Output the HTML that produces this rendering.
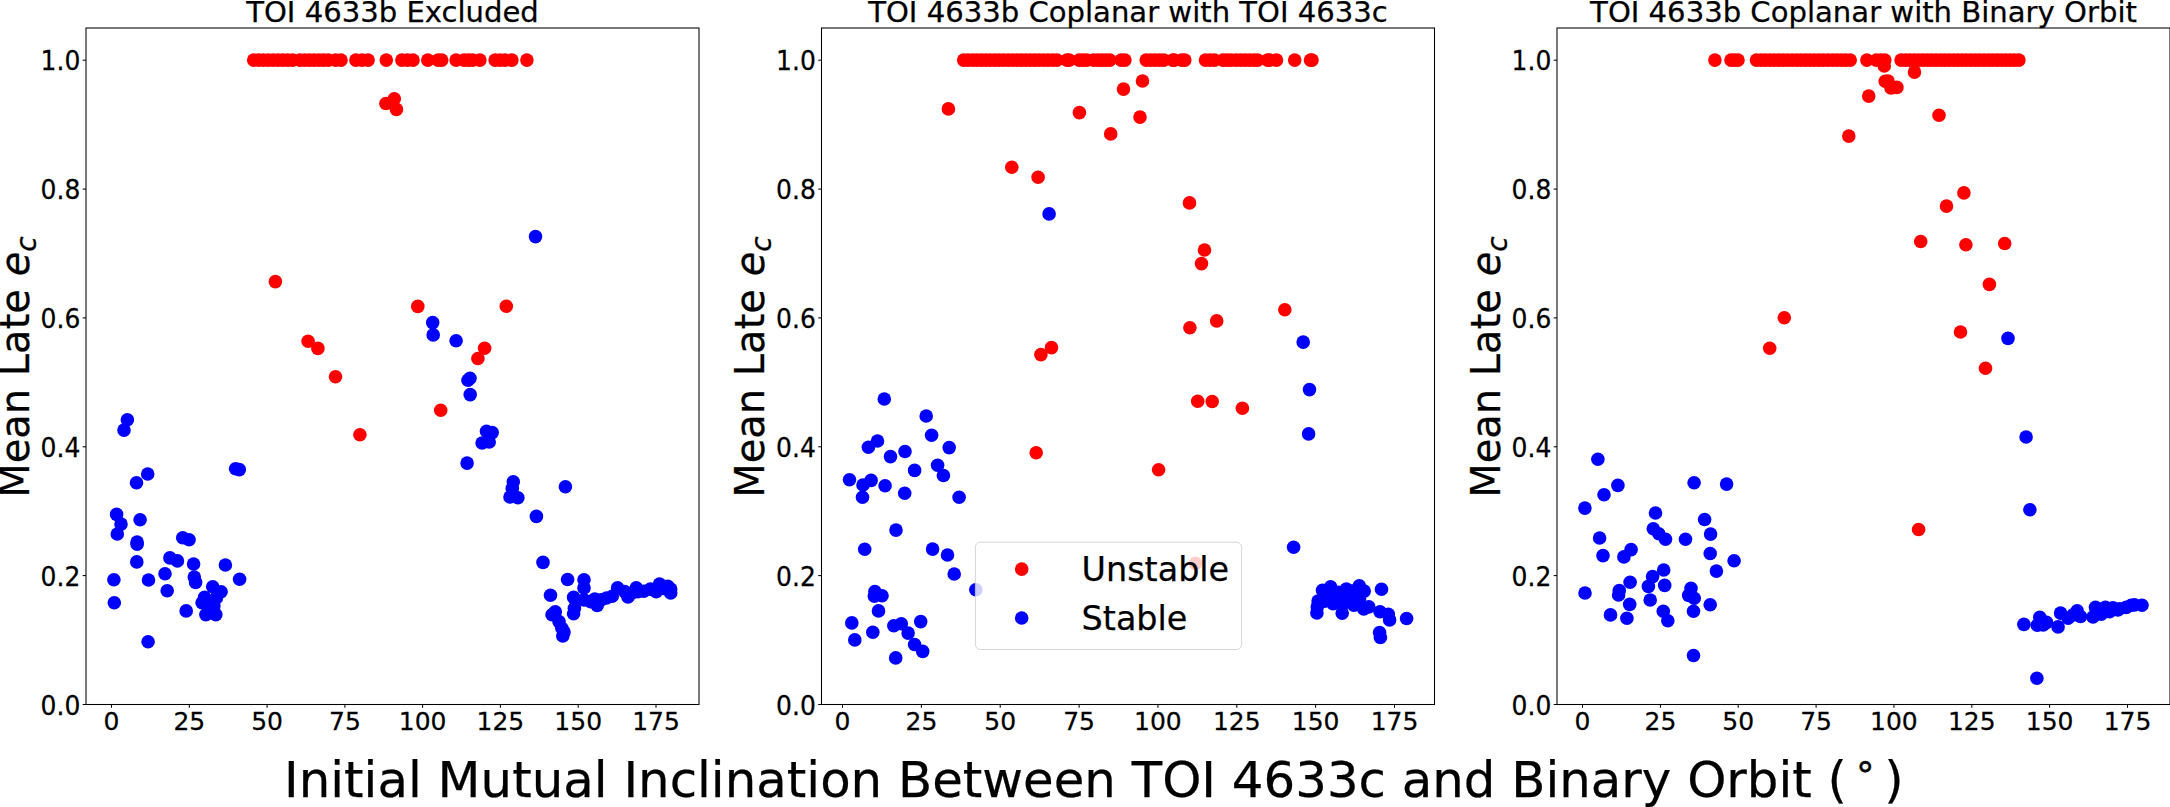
<!DOCTYPE html><html><head><meta charset="utf-8"><title>fig</title><style>html,body{margin:0;padding:0;background:#fff;overflow:hidden}svg{display:block}text{font-family:"DejaVu Sans", "Liberation Sans", sans-serif;fill:#000;stroke:#000;stroke-width:0.25px}</style></head><body>
<svg width="2170" height="807" viewBox="0 0 2170 807">
<rect width="2170" height="807" fill="#fff"/>
<g>
<circle cx="253.7" cy="60.1" r="6.8" fill="#ff0000"/>
<circle cx="258.6" cy="60.1" r="6.8" fill="#ff0000"/>
<circle cx="263.4" cy="60.1" r="6.8" fill="#ff0000"/>
<circle cx="268.2" cy="60.1" r="6.8" fill="#ff0000"/>
<circle cx="273.1" cy="60.1" r="6.8" fill="#ff0000"/>
<circle cx="278.0" cy="60.1" r="6.8" fill="#ff0000"/>
<circle cx="282.8" cy="60.1" r="6.8" fill="#ff0000"/>
<circle cx="287.6" cy="60.1" r="6.8" fill="#ff0000"/>
<circle cx="292.5" cy="60.1" r="6.8" fill="#ff0000"/>
<circle cx="299.9" cy="60.1" r="6.8" fill="#ff0000"/>
<circle cx="304.6" cy="60.1" r="6.8" fill="#ff0000"/>
<circle cx="309.3" cy="60.1" r="6.8" fill="#ff0000"/>
<circle cx="314.0" cy="60.1" r="6.8" fill="#ff0000"/>
<circle cx="318.8" cy="60.1" r="6.8" fill="#ff0000"/>
<circle cx="323.5" cy="60.1" r="6.8" fill="#ff0000"/>
<circle cx="328.2" cy="60.1" r="6.8" fill="#ff0000"/>
<circle cx="335.6" cy="60.1" r="6.8" fill="#ff0000"/>
<circle cx="341.0" cy="60.1" r="6.8" fill="#ff0000"/>
<circle cx="355.9" cy="60.1" r="6.8" fill="#ff0000"/>
<circle cx="362.0" cy="60.1" r="6.8" fill="#ff0000"/>
<circle cx="368.1" cy="60.1" r="6.8" fill="#ff0000"/>
<circle cx="386.3" cy="60.1" r="6.8" fill="#ff0000"/>
<circle cx="401.9" cy="60.1" r="6.8" fill="#ff0000"/>
<circle cx="407.4" cy="60.1" r="6.8" fill="#ff0000"/>
<circle cx="413.0" cy="60.1" r="6.8" fill="#ff0000"/>
<circle cx="427.8" cy="60.1" r="6.8" fill="#ff0000"/>
<circle cx="438.1" cy="60.1" r="6.8" fill="#ff0000"/>
<circle cx="441.7" cy="60.1" r="6.8" fill="#ff0000"/>
<circle cx="456.1" cy="60.1" r="6.8" fill="#ff0000"/>
<circle cx="464.1" cy="60.1" r="6.8" fill="#ff0000"/>
<circle cx="468.5" cy="60.1" r="6.8" fill="#ff0000"/>
<circle cx="472.5" cy="60.1" r="6.8" fill="#ff0000"/>
<circle cx="479.9" cy="60.1" r="6.8" fill="#ff0000"/>
<circle cx="495.1" cy="60.1" r="6.8" fill="#ff0000"/>
<circle cx="500" cy="60.1" r="6.8" fill="#ff0000"/>
<circle cx="505" cy="60.1" r="6.8" fill="#ff0000"/>
<circle cx="511.9" cy="60.1" r="6.8" fill="#ff0000"/>
<circle cx="526.9" cy="60.1" r="6.8" fill="#ff0000"/>
<circle cx="385.9" cy="103.5" r="6.8" fill="#ff0000"/>
<circle cx="394.3" cy="98.8" r="6.8" fill="#ff0000"/>
<circle cx="396.4" cy="109.4" r="6.8" fill="#ff0000"/>
<circle cx="275.4" cy="281.6" r="6.8" fill="#ff0000"/>
<circle cx="417.8" cy="306.4" r="6.8" fill="#ff0000"/>
<circle cx="506.3" cy="306.2" r="6.8" fill="#ff0000"/>
<circle cx="308.1" cy="341.3" r="6.8" fill="#ff0000"/>
<circle cx="317.9" cy="348.4" r="6.8" fill="#ff0000"/>
<circle cx="335.5" cy="376.7" r="6.8" fill="#ff0000"/>
<circle cx="359.9" cy="434.8" r="6.8" fill="#ff0000"/>
<circle cx="484.6" cy="348.3" r="6.8" fill="#ff0000"/>
<circle cx="477.9" cy="358.5" r="6.8" fill="#ff0000"/>
<circle cx="440.7" cy="410.3" r="6.8" fill="#ff0000"/>
<circle cx="535.5" cy="236.6" r="6.8" fill="#0000ff"/>
<circle cx="432.7" cy="322.6" r="6.8" fill="#0000ff"/>
<circle cx="433.2" cy="334.9" r="6.8" fill="#0000ff"/>
<circle cx="456.1" cy="340.7" r="6.8" fill="#0000ff"/>
<circle cx="470.0" cy="378.3" r="6.8" fill="#0000ff"/>
<circle cx="468.0" cy="380.2" r="6.8" fill="#0000ff"/>
<circle cx="470.2" cy="394.6" r="6.8" fill="#0000ff"/>
<circle cx="486.5" cy="431.2" r="6.8" fill="#0000ff"/>
<circle cx="492.2" cy="432.6" r="6.8" fill="#0000ff"/>
<circle cx="489.2" cy="442.0" r="6.8" fill="#0000ff"/>
<circle cx="482.1" cy="443.0" r="6.8" fill="#0000ff"/>
<circle cx="467.1" cy="463.1" r="6.8" fill="#0000ff"/>
<circle cx="513.3" cy="481.7" r="6.8" fill="#0000ff"/>
<circle cx="512.3" cy="488.4" r="6.8" fill="#0000ff"/>
<circle cx="510.0" cy="497.0" r="6.8" fill="#0000ff"/>
<circle cx="517.9" cy="497.8" r="6.8" fill="#0000ff"/>
<circle cx="565.4" cy="486.8" r="6.8" fill="#0000ff"/>
<circle cx="536.4" cy="516.4" r="6.8" fill="#0000ff"/>
<circle cx="543.0" cy="562.4" r="6.8" fill="#0000ff"/>
<circle cx="567.6" cy="579.5" r="6.8" fill="#0000ff"/>
<circle cx="584.0" cy="579.7" r="6.8" fill="#0000ff"/>
<circle cx="584.0" cy="587.9" r="6.8" fill="#0000ff"/>
<circle cx="550.5" cy="595.3" r="6.8" fill="#0000ff"/>
<circle cx="573.6" cy="597.4" r="6.8" fill="#0000ff"/>
<circle cx="555.3" cy="611.8" r="6.8" fill="#0000ff"/>
<circle cx="552.0" cy="614.8" r="6.8" fill="#0000ff"/>
<circle cx="559.0" cy="621.6" r="6.8" fill="#0000ff"/>
<circle cx="561.9" cy="628.2" r="6.8" fill="#0000ff"/>
<circle cx="564.0" cy="632.0" r="6.8" fill="#0000ff"/>
<circle cx="562.8" cy="635.9" r="6.8" fill="#0000ff"/>
<circle cx="573.6" cy="613.8" r="6.8" fill="#0000ff"/>
<circle cx="574.4" cy="608.3" r="6.8" fill="#0000ff"/>
<circle cx="584.0" cy="599.9" r="6.8" fill="#0000ff"/>
<circle cx="590.6" cy="601.6" r="6.8" fill="#0000ff"/>
<circle cx="597.2" cy="605.5" r="6.8" fill="#0000ff"/>
<circle cx="601.0" cy="599.9" r="6.8" fill="#0000ff"/>
<circle cx="594.8" cy="599.1" r="6.8" fill="#0000ff"/>
<circle cx="612.2" cy="596.2" r="6.8" fill="#0000ff"/>
<circle cx="617.6" cy="587.9" r="6.8" fill="#0000ff"/>
<circle cx="624.7" cy="591.6" r="6.8" fill="#0000ff"/>
<circle cx="628.0" cy="597.0" r="6.8" fill="#0000ff"/>
<circle cx="636.3" cy="587.9" r="6.8" fill="#0000ff"/>
<circle cx="637.9" cy="591.6" r="6.8" fill="#0000ff"/>
<circle cx="643.8" cy="591.2" r="6.8" fill="#0000ff"/>
<circle cx="650.4" cy="589.1" r="6.8" fill="#0000ff"/>
<circle cx="656.2" cy="591.6" r="6.8" fill="#0000ff"/>
<circle cx="659.5" cy="584.1" r="6.8" fill="#0000ff"/>
<circle cx="667.8" cy="586.2" r="6.8" fill="#0000ff"/>
<circle cx="670.7" cy="592.9" r="6.8" fill="#0000ff"/>
<circle cx="670.7" cy="589.1" r="6.8" fill="#0000ff"/>
<circle cx="606.5" cy="598.0" r="6.8" fill="#0000ff"/>
<circle cx="632" cy="593" r="6.8" fill="#0000ff"/>
<circle cx="663.5" cy="588.5" r="6.8" fill="#0000ff"/>
<circle cx="127.4" cy="419.8" r="6.8" fill="#0000ff"/>
<circle cx="124.0" cy="430.1" r="6.8" fill="#0000ff"/>
<circle cx="147.7" cy="474.0" r="6.8" fill="#0000ff"/>
<circle cx="136.5" cy="482.8" r="6.8" fill="#0000ff"/>
<circle cx="235.6" cy="468.8" r="6.8" fill="#0000ff"/>
<circle cx="239.3" cy="469.6" r="6.8" fill="#0000ff"/>
<circle cx="116.6" cy="514.4" r="6.8" fill="#0000ff"/>
<circle cx="121.0" cy="524.1" r="6.8" fill="#0000ff"/>
<circle cx="117.3" cy="534.0" r="6.8" fill="#0000ff"/>
<circle cx="140.1" cy="519.7" r="6.8" fill="#0000ff"/>
<circle cx="137.1" cy="542.0" r="6.8" fill="#0000ff"/>
<circle cx="137.1" cy="544.2" r="6.8" fill="#0000ff"/>
<circle cx="136.8" cy="561.9" r="6.8" fill="#0000ff"/>
<circle cx="113.9" cy="579.8" r="6.8" fill="#0000ff"/>
<circle cx="148.5" cy="580.0" r="6.8" fill="#0000ff"/>
<circle cx="165.0" cy="573.8" r="6.8" fill="#0000ff"/>
<circle cx="167.2" cy="590.8" r="6.8" fill="#0000ff"/>
<circle cx="182.7" cy="537.7" r="6.8" fill="#0000ff"/>
<circle cx="189.1" cy="539.8" r="6.8" fill="#0000ff"/>
<circle cx="169.9" cy="557.9" r="6.8" fill="#0000ff"/>
<circle cx="177.4" cy="560.9" r="6.8" fill="#0000ff"/>
<circle cx="193.6" cy="564.0" r="6.8" fill="#0000ff"/>
<circle cx="194.3" cy="577.0" r="6.8" fill="#0000ff"/>
<circle cx="195.6" cy="582.4" r="6.8" fill="#0000ff"/>
<circle cx="225.4" cy="565.0" r="6.8" fill="#0000ff"/>
<circle cx="239.6" cy="579.2" r="6.8" fill="#0000ff"/>
<circle cx="212.7" cy="586.7" r="6.8" fill="#0000ff"/>
<circle cx="221.1" cy="591.7" r="6.8" fill="#0000ff"/>
<circle cx="114.3" cy="602.8" r="6.8" fill="#0000ff"/>
<circle cx="204.6" cy="597.3" r="6.8" fill="#0000ff"/>
<circle cx="202.1" cy="602.8" r="6.8" fill="#0000ff"/>
<circle cx="216.4" cy="597.9" r="6.8" fill="#0000ff"/>
<circle cx="213.9" cy="605.9" r="6.8" fill="#0000ff"/>
<circle cx="205.9" cy="614.6" r="6.8" fill="#0000ff"/>
<circle cx="215.8" cy="614.6" r="6.8" fill="#0000ff"/>
<circle cx="209" cy="607.2" r="6.8" fill="#0000ff"/>
<circle cx="186.2" cy="610.9" r="6.8" fill="#0000ff"/>
<circle cx="148.1" cy="641.7" r="6.8" fill="#0000ff"/>
</g>
<rect x="86.0" y="28.0" width="613.0" height="676.5" fill="none" stroke="#000" stroke-width="1.05"/>
<line x1="111.5" y1="704.5" x2="111.5" y2="707.8" stroke="#000" stroke-width="1.05"/>
<text transform="translate(111.5,729.8) scale(1,1.025)" font-size="25" text-anchor="middle">0</text>
<line x1="189.3" y1="704.5" x2="189.3" y2="707.8" stroke="#000" stroke-width="1.05"/>
<text transform="translate(189.3,729.8) scale(1,1.025)" font-size="25" text-anchor="middle">25</text>
<line x1="267.1" y1="704.5" x2="267.1" y2="707.8" stroke="#000" stroke-width="1.05"/>
<text transform="translate(267.1,729.8) scale(1,1.025)" font-size="25" text-anchor="middle">50</text>
<line x1="344.9" y1="704.5" x2="344.9" y2="707.8" stroke="#000" stroke-width="1.05"/>
<text transform="translate(344.9,729.8) scale(1,1.025)" font-size="25" text-anchor="middle">75</text>
<line x1="422.6" y1="704.5" x2="422.6" y2="707.8" stroke="#000" stroke-width="1.05"/>
<text transform="translate(422.6,729.8) scale(1,1.025)" font-size="25" text-anchor="middle">100</text>
<line x1="500.4" y1="704.5" x2="500.4" y2="707.8" stroke="#000" stroke-width="1.05"/>
<text transform="translate(500.4,729.8) scale(1,1.025)" font-size="25" text-anchor="middle">125</text>
<line x1="578.2" y1="704.5" x2="578.2" y2="707.8" stroke="#000" stroke-width="1.05"/>
<text transform="translate(578.2,729.8) scale(1,1.025)" font-size="25" text-anchor="middle">150</text>
<line x1="656.0" y1="704.5" x2="656.0" y2="707.8" stroke="#000" stroke-width="1.05"/>
<text transform="translate(656.0,729.8) scale(1,1.025)" font-size="25" text-anchor="middle">175</text>
<line x1="86.0" y1="704.5" x2="82.7" y2="704.5" stroke="#000" stroke-width="1.05"/>
<text transform="translate(80.3,714.5) scale(1,1.03)" font-size="25" text-anchor="end">0.0</text>
<line x1="86.0" y1="575.6" x2="82.7" y2="575.6" stroke="#000" stroke-width="1.05"/>
<text transform="translate(80.3,585.6) scale(1,1.03)" font-size="25" text-anchor="end">0.2</text>
<line x1="86.0" y1="446.8" x2="82.7" y2="446.8" stroke="#000" stroke-width="1.05"/>
<text transform="translate(80.3,456.8) scale(1,1.03)" font-size="25" text-anchor="end">0.4</text>
<line x1="86.0" y1="317.9" x2="82.7" y2="317.9" stroke="#000" stroke-width="1.05"/>
<text transform="translate(80.3,327.9) scale(1,1.03)" font-size="25" text-anchor="end">0.6</text>
<line x1="86.0" y1="189.1" x2="82.7" y2="189.1" stroke="#000" stroke-width="1.05"/>
<text transform="translate(80.3,199.1) scale(1,1.03)" font-size="25" text-anchor="end">0.8</text>
<line x1="86.0" y1="60.2" x2="82.7" y2="60.2" stroke="#000" stroke-width="1.05"/>
<text transform="translate(80.3,70.2) scale(1,1.03)" font-size="25" text-anchor="end">1.0</text>
<text x="392.5" y="22.4" font-size="29.1" text-anchor="middle">TOI 4633b Excluded</text>
<text transform="translate(28.7,367.1) rotate(-90)" font-size="40" text-anchor="middle">Mean Late <tspan font-style="italic">e</tspan><tspan font-style="italic" font-size="28.0" dy="6.8">c</tspan></text>
<g>
<circle cx="963.7" cy="60.1" r="6.8" fill="#ff0000"/>
<circle cx="968.1" cy="60.1" r="6.8" fill="#ff0000"/>
<circle cx="972.6" cy="60.1" r="6.8" fill="#ff0000"/>
<circle cx="977.0" cy="60.1" r="6.8" fill="#ff0000"/>
<circle cx="981.5" cy="60.1" r="6.8" fill="#ff0000"/>
<circle cx="985.9" cy="60.1" r="6.8" fill="#ff0000"/>
<circle cx="990.3" cy="60.1" r="6.8" fill="#ff0000"/>
<circle cx="994.8" cy="60.1" r="6.8" fill="#ff0000"/>
<circle cx="999.2" cy="60.1" r="6.8" fill="#ff0000"/>
<circle cx="1003.6" cy="60.1" r="6.8" fill="#ff0000"/>
<circle cx="1008.1" cy="60.1" r="6.8" fill="#ff0000"/>
<circle cx="1012.5" cy="60.1" r="6.8" fill="#ff0000"/>
<circle cx="1017.0" cy="60.1" r="6.8" fill="#ff0000"/>
<circle cx="1021.4" cy="60.1" r="6.8" fill="#ff0000"/>
<circle cx="1025.8" cy="60.1" r="6.8" fill="#ff0000"/>
<circle cx="1030.3" cy="60.1" r="6.8" fill="#ff0000"/>
<circle cx="1034.7" cy="60.1" r="6.8" fill="#ff0000"/>
<circle cx="1039.1" cy="60.1" r="6.8" fill="#ff0000"/>
<circle cx="1043.6" cy="60.1" r="6.8" fill="#ff0000"/>
<circle cx="1048.0" cy="60.1" r="6.8" fill="#ff0000"/>
<circle cx="1052.5" cy="60.1" r="6.8" fill="#ff0000"/>
<circle cx="1056.9" cy="60.1" r="6.8" fill="#ff0000"/>
<circle cx="1066.9" cy="60.1" r="6.8" fill="#ff0000"/>
<circle cx="1069.2" cy="60.1" r="6.8" fill="#ff0000"/>
<circle cx="1079.2" cy="60.1" r="6.8" fill="#ff0000"/>
<circle cx="1083" cy="60.1" r="6.8" fill="#ff0000"/>
<circle cx="1086.7" cy="60.1" r="6.8" fill="#ff0000"/>
<circle cx="1093.7" cy="60.1" r="6.8" fill="#ff0000"/>
<circle cx="1098" cy="60.1" r="6.8" fill="#ff0000"/>
<circle cx="1102" cy="60.1" r="6.8" fill="#ff0000"/>
<circle cx="1106" cy="60.1" r="6.8" fill="#ff0000"/>
<circle cx="1109.8" cy="60.1" r="6.8" fill="#ff0000"/>
<circle cx="1121.2" cy="60.1" r="6.8" fill="#ff0000"/>
<circle cx="1124.9" cy="60.1" r="6.8" fill="#ff0000"/>
<circle cx="1146.2" cy="60.1" r="6.8" fill="#ff0000"/>
<circle cx="1150.5" cy="60.1" r="6.8" fill="#ff0000"/>
<circle cx="1155" cy="60.1" r="6.8" fill="#ff0000"/>
<circle cx="1159.5" cy="60.1" r="6.8" fill="#ff0000"/>
<circle cx="1163.8" cy="60.1" r="6.8" fill="#ff0000"/>
<circle cx="1172.8" cy="60.1" r="6.8" fill="#ff0000"/>
<circle cx="1174.2" cy="60.1" r="6.8" fill="#ff0000"/>
<circle cx="1181.7" cy="60.1" r="6.8" fill="#ff0000"/>
<circle cx="1184.8" cy="60.1" r="6.8" fill="#ff0000"/>
<circle cx="1205.5" cy="60.1" r="6.8" fill="#ff0000"/>
<circle cx="1210" cy="60.1" r="6.8" fill="#ff0000"/>
<circle cx="1214.5" cy="60.1" r="6.8" fill="#ff0000"/>
<circle cx="1223" cy="60.1" r="6.8" fill="#ff0000"/>
<circle cx="1227" cy="60.1" r="6.8" fill="#ff0000"/>
<circle cx="1231" cy="60.1" r="6.8" fill="#ff0000"/>
<circle cx="1236" cy="60.1" r="6.8" fill="#ff0000"/>
<circle cx="1240.5" cy="60.1" r="6.8" fill="#ff0000"/>
<circle cx="1245" cy="60.1" r="6.8" fill="#ff0000"/>
<circle cx="1249.5" cy="60.1" r="6.8" fill="#ff0000"/>
<circle cx="1254" cy="60.1" r="6.8" fill="#ff0000"/>
<circle cx="1257.6" cy="60.1" r="6.8" fill="#ff0000"/>
<circle cx="1267.6" cy="60.1" r="6.8" fill="#ff0000"/>
<circle cx="1269.5" cy="60.1" r="6.8" fill="#ff0000"/>
<circle cx="1276.5" cy="60.1" r="6.8" fill="#ff0000"/>
<circle cx="1294.7" cy="60.1" r="6.8" fill="#ff0000"/>
<circle cx="1310.5" cy="60.1" r="6.8" fill="#ff0000"/>
<circle cx="1312.0" cy="60.1" r="6.8" fill="#ff0000"/>
<circle cx="1142.5" cy="81.0" r="6.8" fill="#ff0000"/>
<circle cx="1123.5" cy="89.1" r="6.8" fill="#ff0000"/>
<circle cx="948.4" cy="108.9" r="6.8" fill="#ff0000"/>
<circle cx="1079.4" cy="112.6" r="6.8" fill="#ff0000"/>
<circle cx="1140.0" cy="117.1" r="6.8" fill="#ff0000"/>
<circle cx="1110.7" cy="133.9" r="6.8" fill="#ff0000"/>
<circle cx="1011.8" cy="167.2" r="6.8" fill="#ff0000"/>
<circle cx="1038.1" cy="177.3" r="6.8" fill="#ff0000"/>
<circle cx="1189.5" cy="202.9" r="6.8" fill="#ff0000"/>
<circle cx="1204.5" cy="250.0" r="6.8" fill="#ff0000"/>
<circle cx="1201.5" cy="263.6" r="6.8" fill="#ff0000"/>
<circle cx="1051.5" cy="347.6" r="6.8" fill="#ff0000"/>
<circle cx="1040.9" cy="354.6" r="6.8" fill="#ff0000"/>
<circle cx="1189.9" cy="327.7" r="6.8" fill="#ff0000"/>
<circle cx="1216.7" cy="320.9" r="6.8" fill="#ff0000"/>
<circle cx="1284.8" cy="309.7" r="6.8" fill="#ff0000"/>
<circle cx="1197.7" cy="401.3" r="6.8" fill="#ff0000"/>
<circle cx="1212.2" cy="401.5" r="6.8" fill="#ff0000"/>
<circle cx="1242.4" cy="408.3" r="6.8" fill="#ff0000"/>
<circle cx="1036.2" cy="452.8" r="6.8" fill="#ff0000"/>
<circle cx="1158.6" cy="469.8" r="6.8" fill="#ff0000"/>
<circle cx="1049.1" cy="213.9" r="6.8" fill="#0000ff"/>
<circle cx="1303.2" cy="342.1" r="6.8" fill="#0000ff"/>
<circle cx="1309.5" cy="389.6" r="6.8" fill="#0000ff"/>
<circle cx="1308.6" cy="433.9" r="6.8" fill="#0000ff"/>
<circle cx="1293.6" cy="547.3" r="6.8" fill="#0000ff"/>
<circle cx="1381.5" cy="589.3" r="6.8" fill="#0000ff"/>
<circle cx="1406.6" cy="618.5" r="6.8" fill="#0000ff"/>
<circle cx="1330.6" cy="586.8" r="6.8" fill="#0000ff"/>
<circle cx="1322.5" cy="590.3" r="6.8" fill="#0000ff"/>
<circle cx="1346.4" cy="589.0" r="6.8" fill="#0000ff"/>
<circle cx="1359.3" cy="585.7" r="6.8" fill="#0000ff"/>
<circle cx="1364.2" cy="591.1" r="6.8" fill="#0000ff"/>
<circle cx="1318.1" cy="601.1" r="6.8" fill="#0000ff"/>
<circle cx="1317.3" cy="606.9" r="6.8" fill="#0000ff"/>
<circle cx="1316.9" cy="612.9" r="6.8" fill="#0000ff"/>
<circle cx="1342.2" cy="613.1" r="6.8" fill="#0000ff"/>
<circle cx="1333.1" cy="603.6" r="6.8" fill="#0000ff"/>
<circle cx="1324.8" cy="601.1" r="6.8" fill="#0000ff"/>
<circle cx="1368.8" cy="606.9" r="6.8" fill="#0000ff"/>
<circle cx="1363.8" cy="609.0" r="6.8" fill="#0000ff"/>
<circle cx="1353.9" cy="605.2" r="6.8" fill="#0000ff"/>
<circle cx="1380.0" cy="611.7" r="6.8" fill="#0000ff"/>
<circle cx="1388.3" cy="614.4" r="6.8" fill="#0000ff"/>
<circle cx="1389.6" cy="619.9" r="6.8" fill="#0000ff"/>
<circle cx="1338.9" cy="596.9" r="6.8" fill="#0000ff"/>
<circle cx="1351.4" cy="596.9" r="6.8" fill="#0000ff"/>
<circle cx="1338.5" cy="592.3" r="6.8" fill="#0000ff"/>
<circle cx="1352.6" cy="591.0" r="6.8" fill="#0000ff"/>
<circle cx="1359.5" cy="598.8" r="6.8" fill="#0000ff"/>
<circle cx="1358" cy="595.3" r="6.8" fill="#0000ff"/>
<circle cx="1330.6" cy="595.3" r="6.8" fill="#0000ff"/>
<circle cx="1343" cy="603.6" r="6.8" fill="#0000ff"/>
<circle cx="1379.6" cy="632.5" r="6.8" fill="#0000ff"/>
<circle cx="1380.4" cy="637.5" r="6.8" fill="#0000ff"/>
<circle cx="884.3" cy="399.0" r="6.8" fill="#0000ff"/>
<circle cx="926.2" cy="416.0" r="6.8" fill="#0000ff"/>
<circle cx="931.6" cy="435.2" r="6.8" fill="#0000ff"/>
<circle cx="949.2" cy="447.6" r="6.8" fill="#0000ff"/>
<circle cx="877.5" cy="441.0" r="6.8" fill="#0000ff"/>
<circle cx="868.4" cy="447.3" r="6.8" fill="#0000ff"/>
<circle cx="905.0" cy="451.5" r="6.8" fill="#0000ff"/>
<circle cx="890.5" cy="456.6" r="6.8" fill="#0000ff"/>
<circle cx="914.6" cy="470.4" r="6.8" fill="#0000ff"/>
<circle cx="937.6" cy="465.3" r="6.8" fill="#0000ff"/>
<circle cx="943.4" cy="475.5" r="6.8" fill="#0000ff"/>
<circle cx="849.5" cy="479.8" r="6.8" fill="#0000ff"/>
<circle cx="871.1" cy="480.4" r="6.8" fill="#0000ff"/>
<circle cx="863.0" cy="485.0" r="6.8" fill="#0000ff"/>
<circle cx="885.1" cy="485.8" r="6.8" fill="#0000ff"/>
<circle cx="862.5" cy="497.3" r="6.8" fill="#0000ff"/>
<circle cx="904.7" cy="493.3" r="6.8" fill="#0000ff"/>
<circle cx="959.1" cy="497.3" r="6.8" fill="#0000ff"/>
<circle cx="896.0" cy="530.1" r="6.8" fill="#0000ff"/>
<circle cx="864.7" cy="549.3" r="6.8" fill="#0000ff"/>
<circle cx="932.6" cy="549.1" r="6.8" fill="#0000ff"/>
<circle cx="947.5" cy="555.0" r="6.8" fill="#0000ff"/>
<circle cx="954.2" cy="574.0" r="6.8" fill="#0000ff"/>
<circle cx="874.9" cy="591.6" r="6.8" fill="#0000ff"/>
<circle cx="882.0" cy="595.7" r="6.8" fill="#0000ff"/>
<circle cx="874.4" cy="596.3" r="6.8" fill="#0000ff"/>
<circle cx="878.5" cy="610.9" r="6.8" fill="#0000ff"/>
<circle cx="851.8" cy="622.9" r="6.8" fill="#0000ff"/>
<circle cx="872.8" cy="632.2" r="6.8" fill="#0000ff"/>
<circle cx="854.8" cy="639.9" r="6.8" fill="#0000ff"/>
<circle cx="893.8" cy="625.7" r="6.8" fill="#0000ff"/>
<circle cx="901.3" cy="623.8" r="6.8" fill="#0000ff"/>
<circle cx="908.1" cy="633.1" r="6.8" fill="#0000ff"/>
<circle cx="920.7" cy="621.6" r="6.8" fill="#0000ff"/>
<circle cx="914.6" cy="644.5" r="6.8" fill="#0000ff"/>
<circle cx="922.7" cy="651.4" r="6.8" fill="#0000ff"/>
<circle cx="895.7" cy="657.9" r="6.8" fill="#0000ff"/>
<circle cx="975.8" cy="589.7" r="6.8" fill="#0000ff"/>
<circle cx="1195.5" cy="563.4" r="6.8" fill="#ff0000"/>
</g>
<rect x="975.4" y="542.2" width="266.2" height="107.3" rx="5" ry="5" fill="#fff" fill-opacity="0.8" stroke="#ccc" stroke-opacity="0.8" stroke-width="1.0"/>
<circle cx="1021.7" cy="569.1" r="6.8" fill="#ff0000"/>
<circle cx="1021.7" cy="618.0" r="6.8" fill="#0000ff"/>
<text x="1081.6" y="581" font-size="33.4">Unstable</text>
<text x="1081.6" y="630.1" font-size="33.4">Stable</text>
<rect x="821.5" y="28.0" width="613.0" height="676.5" fill="none" stroke="#000" stroke-width="1.05"/>
<line x1="842.5" y1="704.5" x2="842.5" y2="707.8" stroke="#000" stroke-width="1.05"/>
<text transform="translate(842.5,729.8) scale(1,1.025)" font-size="25" text-anchor="middle">0</text>
<line x1="921.4" y1="704.5" x2="921.4" y2="707.8" stroke="#000" stroke-width="1.05"/>
<text transform="translate(921.4,729.8) scale(1,1.025)" font-size="25" text-anchor="middle">25</text>
<line x1="1000.2" y1="704.5" x2="1000.2" y2="707.8" stroke="#000" stroke-width="1.05"/>
<text transform="translate(1000.2,729.8) scale(1,1.025)" font-size="25" text-anchor="middle">50</text>
<line x1="1079.1" y1="704.5" x2="1079.1" y2="707.8" stroke="#000" stroke-width="1.05"/>
<text transform="translate(1079.1,729.8) scale(1,1.025)" font-size="25" text-anchor="middle">75</text>
<line x1="1157.9" y1="704.5" x2="1157.9" y2="707.8" stroke="#000" stroke-width="1.05"/>
<text transform="translate(1157.9,729.8) scale(1,1.025)" font-size="25" text-anchor="middle">100</text>
<line x1="1236.8" y1="704.5" x2="1236.8" y2="707.8" stroke="#000" stroke-width="1.05"/>
<text transform="translate(1236.8,729.8) scale(1,1.025)" font-size="25" text-anchor="middle">125</text>
<line x1="1315.6" y1="704.5" x2="1315.6" y2="707.8" stroke="#000" stroke-width="1.05"/>
<text transform="translate(1315.6,729.8) scale(1,1.025)" font-size="25" text-anchor="middle">150</text>
<line x1="1394.5" y1="704.5" x2="1394.5" y2="707.8" stroke="#000" stroke-width="1.05"/>
<text transform="translate(1394.5,729.8) scale(1,1.025)" font-size="25" text-anchor="middle">175</text>
<line x1="821.5" y1="704.5" x2="818.2" y2="704.5" stroke="#000" stroke-width="1.05"/>
<text transform="translate(815.8,714.5) scale(1,1.03)" font-size="25" text-anchor="end">0.0</text>
<line x1="821.5" y1="575.6" x2="818.2" y2="575.6" stroke="#000" stroke-width="1.05"/>
<text transform="translate(815.8,585.6) scale(1,1.03)" font-size="25" text-anchor="end">0.2</text>
<line x1="821.5" y1="446.8" x2="818.2" y2="446.8" stroke="#000" stroke-width="1.05"/>
<text transform="translate(815.8,456.8) scale(1,1.03)" font-size="25" text-anchor="end">0.4</text>
<line x1="821.5" y1="317.9" x2="818.2" y2="317.9" stroke="#000" stroke-width="1.05"/>
<text transform="translate(815.8,327.9) scale(1,1.03)" font-size="25" text-anchor="end">0.6</text>
<line x1="821.5" y1="189.1" x2="818.2" y2="189.1" stroke="#000" stroke-width="1.05"/>
<text transform="translate(815.8,199.1) scale(1,1.03)" font-size="25" text-anchor="end">0.8</text>
<line x1="821.5" y1="60.2" x2="818.2" y2="60.2" stroke="#000" stroke-width="1.05"/>
<text transform="translate(815.8,70.2) scale(1,1.03)" font-size="25" text-anchor="end">1.0</text>
<text x="1128.0" y="22.4" font-size="29.1" text-anchor="middle">TOI 4633b Coplanar with TOI 4633c</text>
<text transform="translate(764.2,367.1) rotate(-90)" font-size="40" text-anchor="middle">Mean Late <tspan font-style="italic">e</tspan><tspan font-style="italic" font-size="28.0" dy="6.8">c</tspan></text>
<g>
<circle cx="1714.9" cy="60.1" r="6.8" fill="#ff0000"/>
<circle cx="1731.0" cy="60.1" r="6.8" fill="#ff0000"/>
<circle cx="1734.5" cy="60.1" r="6.8" fill="#ff0000"/>
<circle cx="1738.0" cy="60.1" r="6.8" fill="#ff0000"/>
<circle cx="1756.5" cy="60.1" r="6.8" fill="#ff0000"/>
<circle cx="1761.0" cy="60.1" r="6.8" fill="#ff0000"/>
<circle cx="1765.4" cy="60.1" r="6.8" fill="#ff0000"/>
<circle cx="1769.9" cy="60.1" r="6.8" fill="#ff0000"/>
<circle cx="1774.3" cy="60.1" r="6.8" fill="#ff0000"/>
<circle cx="1778.8" cy="60.1" r="6.8" fill="#ff0000"/>
<circle cx="1783.3" cy="60.1" r="6.8" fill="#ff0000"/>
<circle cx="1787.7" cy="60.1" r="6.8" fill="#ff0000"/>
<circle cx="1792.2" cy="60.1" r="6.8" fill="#ff0000"/>
<circle cx="1796.7" cy="60.1" r="6.8" fill="#ff0000"/>
<circle cx="1801.1" cy="60.1" r="6.8" fill="#ff0000"/>
<circle cx="1805.6" cy="60.1" r="6.8" fill="#ff0000"/>
<circle cx="1810.0" cy="60.1" r="6.8" fill="#ff0000"/>
<circle cx="1814.5" cy="60.1" r="6.8" fill="#ff0000"/>
<circle cx="1819.0" cy="60.1" r="6.8" fill="#ff0000"/>
<circle cx="1823.4" cy="60.1" r="6.8" fill="#ff0000"/>
<circle cx="1827.9" cy="60.1" r="6.8" fill="#ff0000"/>
<circle cx="1832.4" cy="60.1" r="6.8" fill="#ff0000"/>
<circle cx="1836.8" cy="60.1" r="6.8" fill="#ff0000"/>
<circle cx="1841.3" cy="60.1" r="6.8" fill="#ff0000"/>
<circle cx="1845.7" cy="60.1" r="6.8" fill="#ff0000"/>
<circle cx="1850.2" cy="60.1" r="6.8" fill="#ff0000"/>
<circle cx="1866.9" cy="60.1" r="6.8" fill="#ff0000"/>
<circle cx="1876.4" cy="60.1" r="6.8" fill="#ff0000"/>
<circle cx="1880.7" cy="60.1" r="6.8" fill="#ff0000"/>
<circle cx="1884.8" cy="60.1" r="6.8" fill="#ff0000"/>
<circle cx="1901.1" cy="60.1" r="6.8" fill="#ff0000"/>
<circle cx="1905.5" cy="60.1" r="6.8" fill="#ff0000"/>
<circle cx="1909.8" cy="60.1" r="6.8" fill="#ff0000"/>
<circle cx="1914.2" cy="60.1" r="6.8" fill="#ff0000"/>
<circle cx="1918.6" cy="60.1" r="6.8" fill="#ff0000"/>
<circle cx="1922.9" cy="60.1" r="6.8" fill="#ff0000"/>
<circle cx="1927.3" cy="60.1" r="6.8" fill="#ff0000"/>
<circle cx="1931.6" cy="60.1" r="6.8" fill="#ff0000"/>
<circle cx="1936.0" cy="60.1" r="6.8" fill="#ff0000"/>
<circle cx="1940.4" cy="60.1" r="6.8" fill="#ff0000"/>
<circle cx="1944.7" cy="60.1" r="6.8" fill="#ff0000"/>
<circle cx="1949.1" cy="60.1" r="6.8" fill="#ff0000"/>
<circle cx="1953.5" cy="60.1" r="6.8" fill="#ff0000"/>
<circle cx="1957.8" cy="60.1" r="6.8" fill="#ff0000"/>
<circle cx="1962.2" cy="60.1" r="6.8" fill="#ff0000"/>
<circle cx="1966.5" cy="60.1" r="6.8" fill="#ff0000"/>
<circle cx="1970.9" cy="60.1" r="6.8" fill="#ff0000"/>
<circle cx="1975.3" cy="60.1" r="6.8" fill="#ff0000"/>
<circle cx="1979.6" cy="60.1" r="6.8" fill="#ff0000"/>
<circle cx="1984.0" cy="60.1" r="6.8" fill="#ff0000"/>
<circle cx="1988.4" cy="60.1" r="6.8" fill="#ff0000"/>
<circle cx="1992.7" cy="60.1" r="6.8" fill="#ff0000"/>
<circle cx="1997.1" cy="60.1" r="6.8" fill="#ff0000"/>
<circle cx="2001.4" cy="60.1" r="6.8" fill="#ff0000"/>
<circle cx="2005.8" cy="60.1" r="6.8" fill="#ff0000"/>
<circle cx="2010.2" cy="60.1" r="6.8" fill="#ff0000"/>
<circle cx="2014.5" cy="60.1" r="6.8" fill="#ff0000"/>
<circle cx="2018.9" cy="60.1" r="6.8" fill="#ff0000"/>
<circle cx="1884.3" cy="66.0" r="6.8" fill="#ff0000"/>
<circle cx="1914.5" cy="72.1" r="6.8" fill="#ff0000"/>
<circle cx="1885.2" cy="81.2" r="6.8" fill="#ff0000"/>
<circle cx="1888.0" cy="81.0" r="6.8" fill="#ff0000"/>
<circle cx="1896.9" cy="87.4" r="6.8" fill="#ff0000"/>
<circle cx="1891.0" cy="88.0" r="6.8" fill="#ff0000"/>
<circle cx="1868.7" cy="96.1" r="6.8" fill="#ff0000"/>
<circle cx="1939.0" cy="115.3" r="6.8" fill="#ff0000"/>
<circle cx="1848.8" cy="136.1" r="6.8" fill="#ff0000"/>
<circle cx="1963.9" cy="192.9" r="6.8" fill="#ff0000"/>
<circle cx="1946.5" cy="206.1" r="6.8" fill="#ff0000"/>
<circle cx="1920.7" cy="241.5" r="6.8" fill="#ff0000"/>
<circle cx="1965.9" cy="244.7" r="6.8" fill="#ff0000"/>
<circle cx="2004.7" cy="243.5" r="6.8" fill="#ff0000"/>
<circle cx="1989.4" cy="284.4" r="6.8" fill="#ff0000"/>
<circle cx="1784.3" cy="317.7" r="6.8" fill="#ff0000"/>
<circle cx="1769.7" cy="348.3" r="6.8" fill="#ff0000"/>
<circle cx="1960.5" cy="332.0" r="6.8" fill="#ff0000"/>
<circle cx="1985.5" cy="368.3" r="6.8" fill="#ff0000"/>
<circle cx="1918.6" cy="529.5" r="6.8" fill="#ff0000"/>
<circle cx="2008.0" cy="338.4" r="6.8" fill="#0000ff"/>
<circle cx="2026.1" cy="437.0" r="6.8" fill="#0000ff"/>
<circle cx="2029.9" cy="509.7" r="6.8" fill="#0000ff"/>
<circle cx="2036.9" cy="678.2" r="6.8" fill="#0000ff"/>
<circle cx="2023.9" cy="624.4" r="6.8" fill="#0000ff"/>
<circle cx="2039.8" cy="617.2" r="6.8" fill="#0000ff"/>
<circle cx="2037.3" cy="625.3" r="6.8" fill="#0000ff"/>
<circle cx="2043.2" cy="624.9" r="6.8" fill="#0000ff"/>
<circle cx="2046.5" cy="622.4" r="6.8" fill="#0000ff"/>
<circle cx="2060.6" cy="613.1" r="6.8" fill="#0000ff"/>
<circle cx="2058.1" cy="626.9" r="6.8" fill="#0000ff"/>
<circle cx="2077.2" cy="610.7" r="6.8" fill="#0000ff"/>
<circle cx="2073.1" cy="614.9" r="6.8" fill="#0000ff"/>
<circle cx="2068.1" cy="618.2" r="6.8" fill="#0000ff"/>
<circle cx="2080.5" cy="616.5" r="6.8" fill="#0000ff"/>
<circle cx="2095.5" cy="607.4" r="6.8" fill="#0000ff"/>
<circle cx="2093.0" cy="617.0" r="6.8" fill="#0000ff"/>
<circle cx="2101.3" cy="614.1" r="6.8" fill="#0000ff"/>
<circle cx="2105.4" cy="607.4" r="6.8" fill="#0000ff"/>
<circle cx="2112.9" cy="607.8" r="6.8" fill="#0000ff"/>
<circle cx="2119.6" cy="608.7" r="6.8" fill="#0000ff"/>
<circle cx="2109.6" cy="611.6" r="6.8" fill="#0000ff"/>
<circle cx="2117.9" cy="609.9" r="6.8" fill="#0000ff"/>
<circle cx="2131.2" cy="605.3" r="6.8" fill="#0000ff"/>
<circle cx="2134.5" cy="604.9" r="6.8" fill="#0000ff"/>
<circle cx="2142.0" cy="605.3" r="6.8" fill="#0000ff"/>
<circle cx="2126.2" cy="607.4" r="6.8" fill="#0000ff"/>
<circle cx="2100" cy="609.5" r="6.8" fill="#0000ff"/>
<circle cx="1597.9" cy="459.3" r="6.8" fill="#0000ff"/>
<circle cx="1617.9" cy="485.4" r="6.8" fill="#0000ff"/>
<circle cx="1604.0" cy="494.7" r="6.8" fill="#0000ff"/>
<circle cx="1584.9" cy="508.1" r="6.8" fill="#0000ff"/>
<circle cx="1694.1" cy="482.7" r="6.8" fill="#0000ff"/>
<circle cx="1726.6" cy="484.1" r="6.8" fill="#0000ff"/>
<circle cx="1655.5" cy="513.0" r="6.8" fill="#0000ff"/>
<circle cx="1704.6" cy="519.5" r="6.8" fill="#0000ff"/>
<circle cx="1710.6" cy="534.1" r="6.8" fill="#0000ff"/>
<circle cx="1653.3" cy="528.8" r="6.8" fill="#0000ff"/>
<circle cx="1658.8" cy="533.7" r="6.8" fill="#0000ff"/>
<circle cx="1665.5" cy="539.2" r="6.8" fill="#0000ff"/>
<circle cx="1685.5" cy="539.3" r="6.8" fill="#0000ff"/>
<circle cx="1599.6" cy="538.0" r="6.8" fill="#0000ff"/>
<circle cx="1631.1" cy="549.6" r="6.8" fill="#0000ff"/>
<circle cx="1603.0" cy="555.6" r="6.8" fill="#0000ff"/>
<circle cx="1623.9" cy="556.9" r="6.8" fill="#0000ff"/>
<circle cx="1710.2" cy="553.5" r="6.8" fill="#0000ff"/>
<circle cx="1734.1" cy="560.8" r="6.8" fill="#0000ff"/>
<circle cx="1716.4" cy="571.1" r="6.8" fill="#0000ff"/>
<circle cx="1663.7" cy="570.0" r="6.8" fill="#0000ff"/>
<circle cx="1652.6" cy="576.6" r="6.8" fill="#0000ff"/>
<circle cx="1630.1" cy="582.2" r="6.8" fill="#0000ff"/>
<circle cx="1648.4" cy="586.4" r="6.8" fill="#0000ff"/>
<circle cx="1664.7" cy="585.4" r="6.8" fill="#0000ff"/>
<circle cx="1585.0" cy="593.0" r="6.8" fill="#0000ff"/>
<circle cx="1619.3" cy="590.5" r="6.8" fill="#0000ff"/>
<circle cx="1618.6" cy="595.0" r="6.8" fill="#0000ff"/>
<circle cx="1691.0" cy="588.4" r="6.8" fill="#0000ff"/>
<circle cx="1688.7" cy="595.4" r="6.8" fill="#0000ff"/>
<circle cx="1694.2" cy="598.2" r="6.8" fill="#0000ff"/>
<circle cx="1650.2" cy="600.0" r="6.8" fill="#0000ff"/>
<circle cx="1629.7" cy="604.4" r="6.8" fill="#0000ff"/>
<circle cx="1710.2" cy="604.7" r="6.8" fill="#0000ff"/>
<circle cx="1693.5" cy="611.3" r="6.8" fill="#0000ff"/>
<circle cx="1663.3" cy="611.3" r="6.8" fill="#0000ff"/>
<circle cx="1667.8" cy="620.8" r="6.8" fill="#0000ff"/>
<circle cx="1610.5" cy="614.9" r="6.8" fill="#0000ff"/>
<circle cx="1626.9" cy="618.3" r="6.8" fill="#0000ff"/>
<circle cx="1693.5" cy="655.5" r="6.8" fill="#0000ff"/>
</g>
<rect x="1557.0" y="28.0" width="613.0" height="676.5" fill="none" stroke="#000" stroke-width="1.05"/>
<line x1="1582.5" y1="704.5" x2="1582.5" y2="707.8" stroke="#000" stroke-width="1.05"/>
<text transform="translate(1582.5,729.8) scale(1,1.025)" font-size="25" text-anchor="middle">0</text>
<line x1="1660.4" y1="704.5" x2="1660.4" y2="707.8" stroke="#000" stroke-width="1.05"/>
<text transform="translate(1660.4,729.8) scale(1,1.025)" font-size="25" text-anchor="middle">25</text>
<line x1="1738.2" y1="704.5" x2="1738.2" y2="707.8" stroke="#000" stroke-width="1.05"/>
<text transform="translate(1738.2,729.8) scale(1,1.025)" font-size="25" text-anchor="middle">50</text>
<line x1="1816.1" y1="704.5" x2="1816.1" y2="707.8" stroke="#000" stroke-width="1.05"/>
<text transform="translate(1816.1,729.8) scale(1,1.025)" font-size="25" text-anchor="middle">75</text>
<line x1="1893.9" y1="704.5" x2="1893.9" y2="707.8" stroke="#000" stroke-width="1.05"/>
<text transform="translate(1893.9,729.8) scale(1,1.025)" font-size="25" text-anchor="middle">100</text>
<line x1="1971.8" y1="704.5" x2="1971.8" y2="707.8" stroke="#000" stroke-width="1.05"/>
<text transform="translate(1971.8,729.8) scale(1,1.025)" font-size="25" text-anchor="middle">125</text>
<line x1="2049.6" y1="704.5" x2="2049.6" y2="707.8" stroke="#000" stroke-width="1.05"/>
<text transform="translate(2049.6,729.8) scale(1,1.025)" font-size="25" text-anchor="middle">150</text>
<line x1="2127.5" y1="704.5" x2="2127.5" y2="707.8" stroke="#000" stroke-width="1.05"/>
<text transform="translate(2127.5,729.8) scale(1,1.025)" font-size="25" text-anchor="middle">175</text>
<line x1="1557.0" y1="704.5" x2="1553.7" y2="704.5" stroke="#000" stroke-width="1.05"/>
<text transform="translate(1551.3,714.5) scale(1,1.03)" font-size="25" text-anchor="end">0.0</text>
<line x1="1557.0" y1="575.6" x2="1553.7" y2="575.6" stroke="#000" stroke-width="1.05"/>
<text transform="translate(1551.3,585.6) scale(1,1.03)" font-size="25" text-anchor="end">0.2</text>
<line x1="1557.0" y1="446.8" x2="1553.7" y2="446.8" stroke="#000" stroke-width="1.05"/>
<text transform="translate(1551.3,456.8) scale(1,1.03)" font-size="25" text-anchor="end">0.4</text>
<line x1="1557.0" y1="317.9" x2="1553.7" y2="317.9" stroke="#000" stroke-width="1.05"/>
<text transform="translate(1551.3,327.9) scale(1,1.03)" font-size="25" text-anchor="end">0.6</text>
<line x1="1557.0" y1="189.1" x2="1553.7" y2="189.1" stroke="#000" stroke-width="1.05"/>
<text transform="translate(1551.3,199.1) scale(1,1.03)" font-size="25" text-anchor="end">0.8</text>
<line x1="1557.0" y1="60.2" x2="1553.7" y2="60.2" stroke="#000" stroke-width="1.05"/>
<text transform="translate(1551.3,70.2) scale(1,1.03)" font-size="25" text-anchor="end">1.0</text>
<text x="1863.5" y="22.4" font-size="29.1" text-anchor="middle">TOI 4633b Coplanar with Binary Orbit</text>
<text transform="translate(1499.7,367.1) rotate(-90)" font-size="40" text-anchor="middle">Mean Late <tspan font-style="italic">e</tspan><tspan font-style="italic" font-size="28.0" dy="6.8">c</tspan></text>
<text x="284" y="797" font-size="49.81" xml:space="preserve">Initial Mutual Inclination Between TOI 4633c and Binary Orbit (</text>
<text x="1854.1" y="778.2" font-size="36" style="stroke-width:0.55px">∘</text>
<text x="1884.2" y="797" font-size="49.81">)</text>
</svg></body></html>
